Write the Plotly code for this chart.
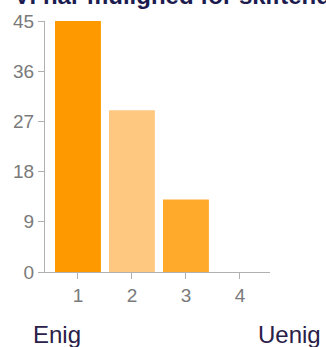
import plotly.graph_objects as go

categories = [1, 2, 3, 4]
values = [45, 29, 13, 0]
bar_colors = ["#ff9900", "#ffc880", "#ffaa2a", "#ff9900"]
y_ticks = [0, 9, 18, 27, 36, 45]
title_text = "Vi har mulighed for skiftende"
left_label = "Enig"
right_label = "Uenig"

W, H = 326, 347
L, R, T, B = 45, 56, 20.5, 74.5
pw, ph = W - L - R, H - T - B

def px(x):
    return (x - L) / pw

def py(y):
    return (H - B - y) / ph

fig = go.Figure(go.Bar(
    x=categories, y=values, marker_color=bar_colors, width=0.85,
    marker_line_width=0,
))

font = "Arial, Liberation Sans, sans-serif"
fig.update_layout(
    width=W, height=H,
    margin=dict(l=L, r=R, t=T, b=B, pad=0),
    plot_bgcolor="white", paper_bgcolor="white",
    showlegend=False,
    font=dict(family=font),
    xaxis=dict(range=[0.39, 4.556], tickvals=categories, ticktext=[str(c) for c in categories],
               showgrid=False, zeroline=False, showline=True, linecolor="#b0b0b0", linewidth=1,
               ticks="outside", ticklen=6, tickcolor="#b0b0b0",
               tickfont=dict(size=19, color="#7a7a7a", family=font)),
    yaxis=dict(range=[0, 45], tickvals=y_ticks, showgrid=False, zeroline=False,
               showline=True, linecolor="#b0b0b0", linewidth=1,
               ticks="outside", ticklen=6, tickcolor="#b0b0b0",
               tickfont=dict(size=19, color="#7a7a7a", family=font)),
    annotations=[
        dict(text="<b>" + title_text + "</b>", xref="paper", yref="paper",
             x=px(12), y=py(10), xanchor="left", yanchor="bottom", showarrow=False,
             font=dict(size=24, color="#1c1c50", family=font)),
        dict(text=left_label, xref="paper", yref="paper",
             x=px(31), y=py(335), xanchor="left", yanchor="middle", showarrow=False,
             font=dict(size=24, color="#2a2048", family=font)),
        dict(text=right_label, xref="paper", yref="paper",
             x=px(323), y=py(335), xanchor="right", yanchor="middle", showarrow=False,
             font=dict(size=24, color="#2a2048", family=font)),
    ],
)

fig.write_html("out.html", config={"displayModeBar": False},
               post_script="document.body.style.margin='0';document.body.style.overflow='hidden';")
